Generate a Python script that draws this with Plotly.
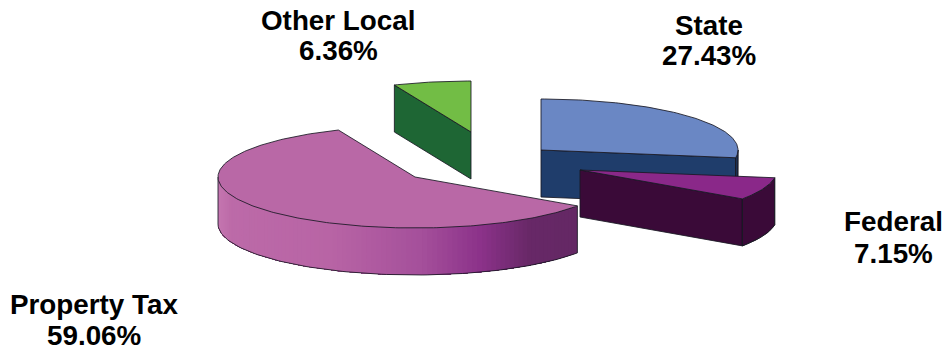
import math
import numpy as np
import plotly.graph_objects as go

# Revenue shares, clockwise from twelve o'clock
categories = ["State", "Federal", "Property Tax", "Other Local"]
shares = [27.43, 7.15, 59.06, 6.36]

# Styling per slice
top_colors = {"State": "#6A87C4", "Federal": "#8A2889", "Property Tax": "#B968A6", "Other Local": "#72BD45"}
side_colors = {"State": "#1F3D6B", "Federal": "#3A0A38", "Other Local": "#1E6634"}
hubs = {"State": (541, 150), "Federal": (580, 170), "Property Tax": (415, 177), "Other Local": (471, 132)}
draw_order = ["Other Local", "State", "Property Tax", "Federal"]

# Projection of the tilted disc, in screen pixels
RX, RY, DEPTH = 197.0, 51.0, 47.0
EDGE = "rgba(25,25,35,0.85)"

# Shading along the outer wall of the large slice
wall_stops_x = [219, 232, 330, 420, 480, 530, 580]
wall_stops_rgb = [(196, 118, 176), (188, 106, 168), (184, 100, 165), (165, 80, 155), (140, 50, 138), (103, 40, 103), (100, 40, 100)]

label_pos = {
    "State": (709, 25, 55),
    "Federal": (893, 221, 253),
    "Property Tax": (94, 304, 335),
    "Other Local": (338, 20, 50),
}
FONT = dict(family="Liberation Sans, Arial, sans-serif", size=27.8, color="#000000")


def rim(hub, deg):
    a = np.radians(deg)
    return hub[0] + RX * np.sin(a), hub[1] - RY * np.cos(a)


def poly(fig, xs, ys, fill, line=EDGE, width=1.0):
    fig.add_trace(go.Scatter(
        x=list(xs), y=list(ys), mode="lines", fill="toself", fillcolor=fill,
        line=dict(color=line, width=width), hoverinfo="skip", showlegend=False,
    ))


def wall_color(x):
    rgb = [np.interp(x, wall_stops_x, [c[i] for c in wall_stops_rgb]) for i in range(3)]
    return "rgb(%d,%d,%d)" % tuple(int(round(v)) for v in rgb)


def draw_slice(fig, name, start, end):
    hub = hubs[name]
    top = top_colors[name]
    side = side_colors.get(name)

    # Cut faces facing the viewer
    for deg, visible in ((start, math.sin(math.radians(start)) < 0), (end, math.sin(math.radians(end)) > 0)):
        if visible:
            x, y = rim(hub, deg)
            poly(fig, [hub[0], x, x, hub[0], hub[0]], [hub[1], y, y + DEPTH, hub[1] + DEPTH, hub[1]], side)

    # Outer wall: only the front half of the rim can be seen
    lo, hi = max(start, 90.0), min(end, 270.0)
    if hi > lo:
        arc = np.linspace(lo, hi, int((hi - lo) / 1.5) + 2)
        xs, ys = rim(hub, arc)
        if side is None:
            # Each band runs on to the end of the wall so no seams show between neighbours
            for i in range(len(arc) - 1):
                c = wall_color((xs[i] + xs[i + 1]) / 2)
                bx, by = xs[i:], ys[i:]
                fig.add_trace(go.Scatter(
                    x=np.r_[bx, bx[::-1], bx[0]], y=np.r_[by, by[::-1] + DEPTH, by[0]],
                    mode="lines", fill="toself", fillcolor=c, line=dict(width=0),
                    hoverinfo="skip", showlegend=False,
                ))
        else:
            poly(fig, np.r_[xs, xs[::-1], xs[0]], np.r_[ys, ys[::-1] + DEPTH, ys[0]], side)
        # Wall outline
        fig.add_trace(go.Scatter(
            x=np.r_[xs[0], xs[0], xs, xs[-1], xs[-1]], y=np.r_[ys[0], ys[0] + DEPTH, ys + DEPTH, ys[-1] + DEPTH, ys[-1]],
            mode="lines", line=dict(color=EDGE, width=1.0), hoverinfo="skip", showlegend=False,
        ))

    # Top face
    arc = np.linspace(start, end, max(int(end - start), 4) + 1)
    xs, ys = rim(hub, arc)
    poly(fig, np.r_[hub[0], xs, hub[0]], np.r_[hub[1], ys, hub[1]], top)


total = sum(shares)
angles = {}
running = 0.0
for cat, val in zip(categories, shares):
    sweep = 360.0 * val / total
    angles[cat] = (running, running + sweep)
    running += sweep

fig = go.Figure()
for cat in draw_order:
    draw_slice(fig, cat, *angles[cat])

for cat, val in zip(categories, shares):
    x, y1, y2 = label_pos[cat]
    fig.add_annotation(x=x, y=y1, text=f"<b>{cat}</b>", showarrow=False, font=FONT)
    fig.add_annotation(x=x, y=y2, text=f"<b>{val:.2f}%</b>", showarrow=False, font=FONT)

fig.update_layout(
    width=946, height=351, margin=dict(l=0, r=0, t=0, b=0),
    paper_bgcolor="white", plot_bgcolor="white", showlegend=False,
    xaxis=dict(range=[0, 946], visible=False, fixedrange=True),
    yaxis=dict(range=[351, 0], visible=False, fixedrange=True),
)
fig.write_html("out.html")
